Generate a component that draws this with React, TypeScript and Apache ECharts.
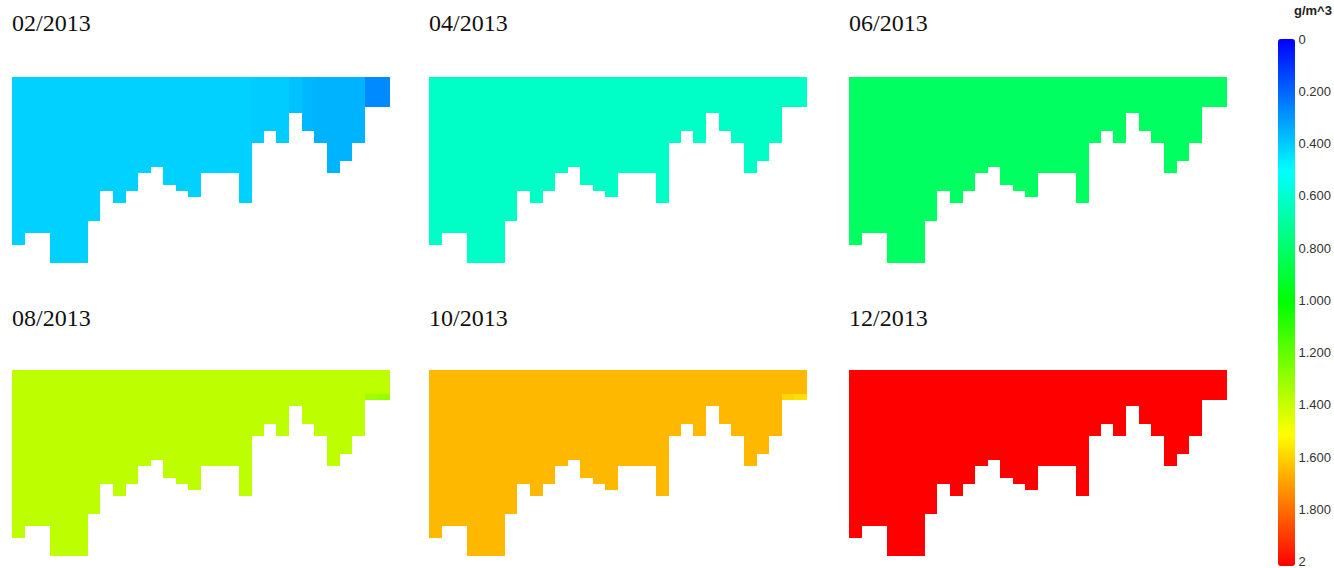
import React, { useEffect, useRef } from "react";
import * as echarts from "echarts";

// ---------- data ----------
const panelTitles = ["02/2013", "04/2013", "06/2013", "08/2013", "10/2013", "12/2013"];
const colCount = 30;
const rowCount = 31;
// number of wet cells (from the surface down) in each column of the cross-section
const colDepth = [28, 26, 26, 31, 31, 31, 24, 19, 21, 19, 16, 15, 18, 19, 20, 16, 16, 16, 21, 11, 9, 11, 6, 9, 11, 16, 14, 11, 5, 5];

// concentration (g/m^3) for each column, one list per month
const febValues = [0.41, 0.41, 0.41, 0.41, 0.41, 0.41, 0.41, 0.41, 0.41, 0.41, 0.41, 0.41, 0.41, 0.41, 0.41, 0.41, 0.41, 0.41, 0.41, 0.40, 0.40, 0.40, 0.38, 0.36, 0.35, 0.35, 0.35, 0.35, 0.27, 0.27];
const aprValues = [0.61, 0.61, 0.61, 0.61, 0.61, 0.61, 0.61, 0.61, 0.61, 0.61, 0.61, 0.61, 0.61, 0.61, 0.61, 0.61, 0.61, 0.61, 0.61, 0.61, 0.61, 0.61, 0.61, 0.61, 0.61, 0.61, 0.61, 0.61, 0.61, 0.61];
const junValues = [0.81, 0.81, 0.81, 0.81, 0.81, 0.81, 0.81, 0.81, 0.81, 0.81, 0.81, 0.81, 0.81, 0.81, 0.81, 0.81, 0.81, 0.81, 0.81, 0.81, 0.81, 0.81, 0.81, 0.81, 0.81, 0.81, 0.81, 0.81, 0.81, 0.81];
const augValues = [1.37, 1.37, 1.37, 1.37, 1.37, 1.37, 1.37, 1.37, 1.37, 1.37, 1.37, 1.37, 1.37, 1.37, 1.37, 1.37, 1.37, 1.37, 1.37, 1.37, 1.37, 1.37, 1.37, 1.37, 1.37, 1.37, 1.37, 1.37, 1.37, 1.37];
const octValues = [1.64, 1.64, 1.64, 1.64, 1.64, 1.64, 1.64, 1.64, 1.64, 1.64, 1.64, 1.64, 1.64, 1.64, 1.64, 1.64, 1.64, 1.64, 1.64, 1.64, 1.64, 1.64, 1.64, 1.64, 1.64, 1.64, 1.64, 1.64, 1.64, 1.64];
const decValues = [2, 2, 2, 2, 2, 2, 2, 2, 2, 2, 2, 2, 2, 2, 2, 2, 2, 2, 2, 2, 2, 2, 2, 2, 2, 2, 2, 2, 2, 2];
const panelValues = [febValues, aprValues, junValues, augValues, octValues, decValues];
// individual cells that differ: [panel, column, row, value]
const specialCells = [
  [3, 28, 4, 1.31],
  [3, 29, 4, 1.29],
  [4, 28, 4, 1.58],
  [4, 29, 4, 1.56],
];
const scaleMin = 0;
const scaleMax = 2;
const scaleStep = 0.2;
const unitLabel = "g/m^3";

// ---------- layout ----------
const panelLefts = [12, 429, 849];
const panelTops = [77, 370];
const panelW = 378;
const panelH = 186;
const titleTops = [11, 306];

export default function App() {
  const ref = useRef<HTMLDivElement>(null);
  useEffect(() => {
    if (!ref.current) return;
    const chart = echarts.init(ref.current, undefined, { renderer: "svg" });
    const xCats = Array.from({ length: colCount }, (_, i) => String(i));
    const yCats = Array.from({ length: rowCount }, (_, i) => String(i));

    const grids: any[] = [];
    const xAxes: any[] = [];
    const yAxes: any[] = [];
    const series: any[] = [];
    const titles: any[] = [];

    panelTitles.forEach((t, p) => {
      const col = p % 3;
      const row = Math.floor(p / 3);
      grids.push({ left: panelLefts[col], top: panelTops[row], width: panelW, height: panelH, containLabel: false });
      xAxes.push({ type: "category", data: xCats, gridIndex: p, show: false });
      yAxes.push({ type: "category", data: yCats, gridIndex: p, show: false, inverse: true });
      const vals = panelValues[p];
      const data: any[] = [];
      for (let c = 0; c < colCount; c++) {
        for (let r = 0; r < colDepth[c]; r++) {
          let v = vals[c];
          specialCells.forEach((s) => {
            if (s[0] === p && s[1] === c && s[2] === r) v = s[3];
          });
          data.push([c, r, v]);
        }
      }
      series.push({
        type: "heatmap",
        xAxisIndex: p,
        yAxisIndex: p,
        data,
        itemStyle: { borderWidth: 0 },
        emphasis: { disabled: true },
      });
      titles.push({
        text: t,
        left: panelLefts[col],
        top: titleTops[row],
        padding: 0,
        textStyle: { fontFamily: "Liberation Serif", fontSize: 24, fontWeight: "normal", color: "#111" },
      });
    });

    // colour bar axis
    const cbLeft = 1278;
    const cbTop = 39;
    const cbW = 17;
    const cbH = 527;
    grids.push({ left: cbLeft, top: cbTop, width: cbW, height: cbH });
    xAxes.push({ type: "category", data: ["a"], gridIndex: 6, show: false });
    yAxes.push({
      type: "value",
      gridIndex: 6,
      min: scaleMin,
      max: scaleMax,
      interval: scaleStep,
      inverse: true,
      position: "right",
      axisLine: { show: false },
      axisTick: { show: false },
      splitLine: { show: false },
      axisLabel: {
        margin: 4,
        color: "#333",
        fontSize: 13,
        fontFamily: "Liberation Sans",
        formatter: (v: number) => (v === scaleMin || v === scaleMax ? String(v) : v.toFixed(3)),
      },
    });
    series.push({ type: "scatter", xAxisIndex: 6, yAxisIndex: 6, data: [], silent: true });

    chart.setOption({
      animation: false,
      backgroundColor: "#fff",
      title: titles,
      grid: grids,
      xAxis: xAxes,
      yAxis: yAxes,
      visualMap: {
        type: "continuous",
        min: scaleMin,
        max: scaleMax,
        seriesIndex: [0, 1, 2, 3, 4, 5],
        orient: "vertical",
        inverse: true,
        calculable: false,
        left: cbLeft,
        top: cbTop,
        itemWidth: cbW,
        itemHeight: cbH,
        padding: 0,
        text: null,
        inRange: { color: ["#0000ff", "#00ffff", "#00ff00", "#ffff00", "#ff0000"] },
      },
      graphic: [
        {
          type: "text",
          left: 1294,
          top: 4,
          style: { text: unitLabel, font: "bold 13px 'Liberation Sans'", fill: "#222" },
        },
      ],
      series,
    });
    return () => chart.dispose();
  }, []);
  return (
    <>
      <style>{".cs-chart path { shape-rendering: crispEdges; }"}</style>
      <div className="cs-chart" ref={ref} style={{ position: "fixed", left: 0, top: 0, width: 1334, height: 568 }} />
    </>
  );
}
